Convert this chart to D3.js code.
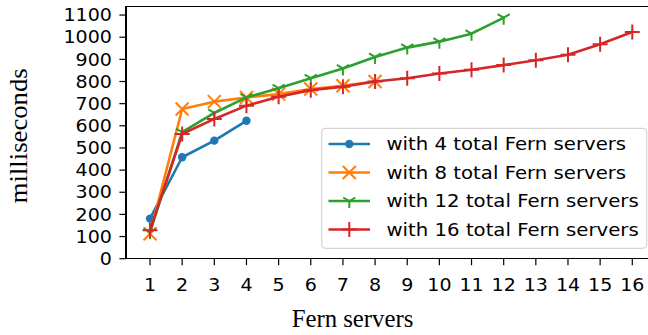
<!DOCTYPE html>
<html><head><meta charset="utf-8">
<script src="https://cdn.jsdelivr.net/npm/d3@7"></script>
<style>
html,body{margin:0;padding:0;background:#fff;}
svg{display:block;}
</style></head>
<body>
<svg id="chart" width="648" height="335"></svg>
<script>
const xTicks = [1,2,3,4,5,6,7,8,9,10,11,12,13,14,15,16];
const yTicks = [0,100,200,300,400,500,600,700,800,900,1000,1100];
const servers4 = [1,2,3,4];
const ms4 = [181,458,533,623];
const servers8 = [1,2,3,4,5,6,7,8];
const ms8 = [113,676,709,728,743,766,781,800];
const servers12 = [1,2,3,4,5,6,7,8,9,10,11,12];
const ms12 = [120,571,658,728,770,815,859,911,953,980,1016,1088];
const servers16 = [1,2,3,4,5,6,7,8,9,10,11,12,13,14,15,16];
const ms16 = [128,563,631,691,731,761,776,800,815,836,853,874,896,921,968,1024];
const seriesNames = ["with 4 total Fern servers","with 8 total Fern servers","with 12 total Fern servers","with 16 total Fern servers"];
const colors = ["#1f77b4","#ff7f0e","#2ca02c","#d62728"];
const markers = ["circle","x","tri","plus"];

const series = [
  {x: servers4, y: ms4},
  {x: servers8, y: ms8},
  {x: servers12, y: ms12},
  {x: servers16, y: ms16}
];

const svg = d3.select("#chart");
const x = d3.scaleLinear().domain([0.25,16.75]).range([125.9, 656.4]);
const y = d3.scaleLinear().domain([0,1140]).range([258.7, 6.2]);
const SANS = "DejaVu Sans";
const FS = 17, SX = 1.12, LFS = 17.6;

function drawMarker(g, type, cx, cy, color) {
  if (type === "circle") {
    g.append("circle").attr("cx",cx).attr("cy",cy).attr("r",4.2).attr("fill",color);
  } else if (type === "x") {
    const r = 6.5;
    g.append("path").attr("d",`M${cx-r},${cy-r}L${cx+r},${cy+r}M${cx-r},${cy+r}L${cx+r},${cy-r}`)
      .attr("stroke",color).attr("stroke-width",2).attr("fill","none");
  } else if (type === "tri") {
    const r = 7;
    g.append("path").attr("d",`M${cx},${cy}L${cx},${cy+r}M${cx},${cy}L${cx-r*0.866},${cy-r*0.5}M${cx},${cy}L${cx+r*0.866},${cy-r*0.5}`)
      .attr("stroke",color).attr("stroke-width",2).attr("fill","none");
  } else if (type === "plus") {
    const r = 7.5;
    g.append("path").attr("d",`M${cx-r},${cy}L${cx+r},${cy}M${cx},${cy-r}L${cx},${cy+r}`)
      .attr("stroke",color).attr("stroke-width",2).attr("fill","none");
  }
}

// series
const line = d3.line().x(d=>x(d[0])).y(d=>y(d[1]));
series.forEach((s,i)=>{
  const pts = s.x.map((v,j)=>[v, s.y[j]]);
  const g = svg.append("g");
  g.append("path").attr("d", line(pts)).attr("fill","none").attr("stroke",colors[i])
    .attr("stroke-width",2.6).attr("stroke-linejoin","round").attr("stroke-linecap","square");
  pts.forEach(p=>drawMarker(g, markers[i], x(p[0]), y(p[1]), colors[i]));
});

// spines
const axG = svg.append("g");
const x0 = x.range()[0], x1 = 660, yb = y.range()[0], yt = y.range()[1];
axG.append("path").attr("d",`M${x1},${yt}H${x0}V${yb}H${x1}`).attr("fill","none")
  .attr("stroke","#000").attr("stroke-width",1.2).attr("shape-rendering","crispEdges");

// y ticks
yTicks.forEach(t=>{
  const yy = y(t);
  axG.append("line").attr("x1",x0-6.5).attr("x2",x0).attr("y1",yy).attr("y2",yy).attr("stroke","#000").attr("stroke-width",1.2);
  axG.append("text").attr("transform",`translate(${x0-14},${yy+6.2}) scale(${SX},1)`)
    .attr("text-anchor","end").attr("font-family",SANS).attr("font-size",FS).attr("fill","#000").text(t);
});
// x ticks
xTicks.forEach(t=>{
  const xx = x(t);
  axG.append("line").attr("x1",xx).attr("x2",xx).attr("y1",yb).attr("y2",yb+6.5).attr("stroke","#000").attr("stroke-width",1.2);
  axG.append("text").attr("transform",`translate(${xx},${290.5}) scale(${SX},1)`)
    .attr("text-anchor","middle").attr("font-family",SANS).attr("font-size",FS).attr("fill","#000").text(t);
});

// axis labels
svg.append("text").attr("x",352.5).attr("y",326.5).attr("text-anchor","middle")
  .attr("font-family","Liberation Serif").attr("font-size",25).attr("textLength",121.7)
  .attr("lengthAdjust","spacingAndGlyphs").text("Fern servers");
svg.append("text").attr("transform","translate(27,135.8) rotate(-90)").attr("text-anchor","middle")
  .attr("font-family","Liberation Serif").attr("font-size",25).attr("textLength",135)
  .attr("lengthAdjust","spacingAndGlyphs").text("milliseconds");

// legend
const lg = svg.append("g");
lg.append("rect").attr("x",321.7).attr("y",128.3).attr("width",325).attr("height",120)
  .attr("rx",4).attr("fill","#fff").attr("fill-opacity",0.8).attr("stroke","#d4d4d4").attr("stroke-width",1.2);
const rowY = [144,172.5,201,229.5];
seriesNames.forEach((name,i)=>{
  const cy = rowY[i];
  lg.append("line").attr("x1",328.5).attr("x2",370).attr("y1",cy).attr("y2",cy)
    .attr("stroke",colors[i]).attr("stroke-width",2.6);
  drawMarker(lg, markers[i], 349.3, cy, colors[i]);
  lg.append("text").attr("transform",`translate(386.5,${cy+6.4}) scale(${SX},1)`)
    .attr("font-family",SANS).attr("font-size",LFS).attr("fill","#000").text(name);
});
</script>
</body></html>
